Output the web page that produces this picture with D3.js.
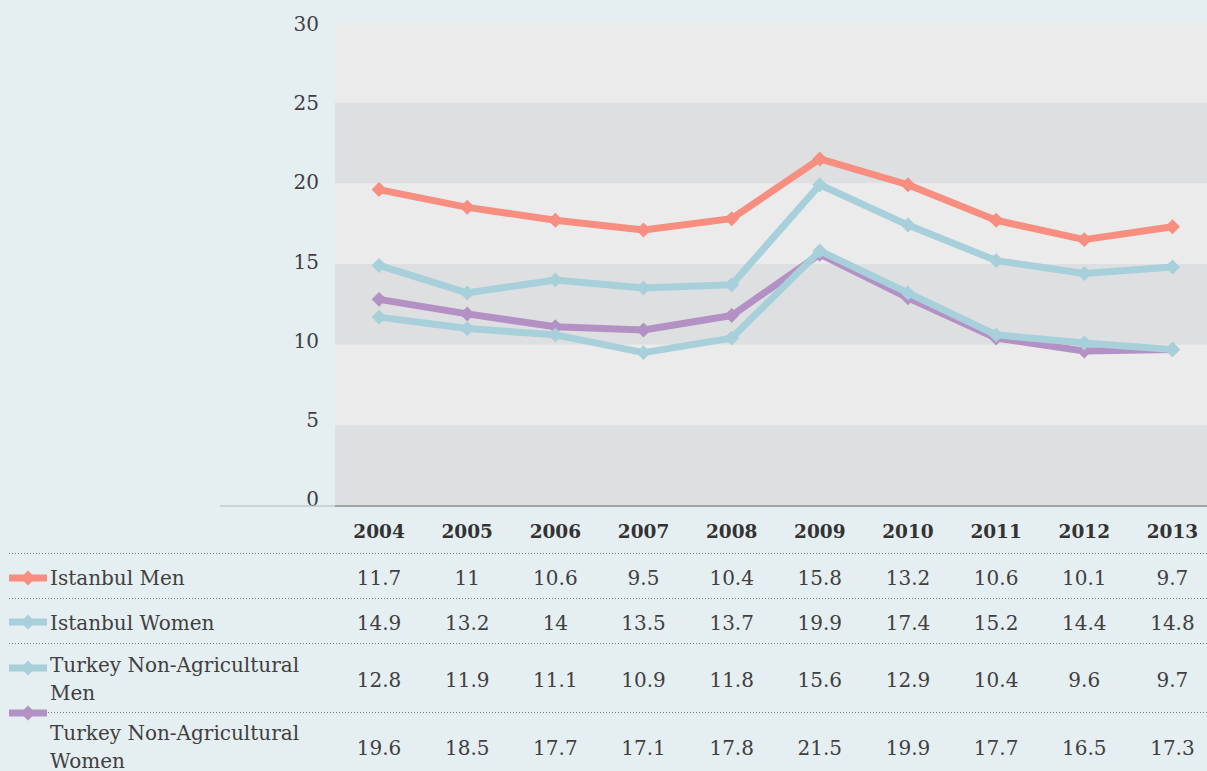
<!DOCTYPE html>
<html>
<head>
<meta charset="utf-8">
<script src="https://cdn.jsdelivr.net/npm/d3@7"></script>
<style>
  html, body { margin: 0; padding: 0; background: #e5eef0; }
  svg { display: block; }
  text { font-family: "DejaVu Serif", serif; fill: #404040; }
</style>
</head>
<body>
<svg id="chart" width="1207" height="771"></svg>
<script>
// Categories and y-axis ticks
const years = ["2004", "2005", "2006", "2007", "2008", "2009", "2010", "2011", "2012", "2013"];
const yTicks = [0, 5, 10, 15, 20, 25, 30];

// Table rows (label lines, values per year)
const rowLabels = [
  ["Istanbul Men"],
  ["Istanbul Women"],
  ["Turkey Non-Agricultural", "Men"],
  ["Turkey Non-Agricultural", "Women"]
];
const istanbulMen   = [11.7, 11, 10.6, 9.5, 10.4, 15.8, 13.2, 10.6, 10.1, 9.7];
const istanbulWomen = [14.9, 13.2, 14, 13.5, 13.7, 19.9, 17.4, 15.2, 14.4, 14.8];
const turkeyMen     = [12.8, 11.9, 11.1, 10.9, 11.8, 15.6, 12.9, 10.4, 9.6, 9.7];
const turkeyWomen   = [19.6, 18.5, 17.7, 17.1, 17.8, 21.5, 19.9, 17.7, 16.5, 17.3];
const rowValues = [istanbulMen, istanbulWomen, turkeyMen, turkeyWomen];

// Colours: the key swatch in the table and the plotted line of each row
const salmon = "#f78e7f", blue = "#a7d0da", purple = "#b491c4";
const keyColors  = [salmon, blue, blue, purple];
const lineColors = [blue, blue, purple, salmon];
const drawOrder  = [2, 0, 1, 3];

const svg = d3.select("#chart");

// Plot area
const plotLeft = 335, plotTop = 21.7, plotBottom = 506, colWidth = 88.15;
const x = d3.scaleBand().domain(years).range([plotLeft, plotLeft + colWidth * years.length]).padding(0);
const y = d3.scaleLinear().domain([0, 30]).range([plotBottom, plotTop]);
const yLabel = d3.scaleLinear().domain([0, 30]).range([506, 31]);
const cx = d => x(d) + x.bandwidth() / 2;

// Alternating horizontal bands
const bands = d3.pairs(yTicks);
svg.append("g").selectAll("rect").data(bands).join("rect")
  .attr("x", plotLeft)
  .attr("width", colWidth * years.length)
  .attr("y", d => y(d[1]))
  .attr("height", d => y(d[0]) - y(d[1]))
  .attr("fill", (d, i) => i % 2 === 0 ? "#dedfe1" : "#ebebeb");

// Y tick labels
svg.append("g").selectAll("text").data(yTicks).join("text")
  .attr("x", 319)
  .attr("y", d => yLabel(d))
  .attr("text-anchor", "end")
  .attr("font-size", 20)
  .text(d => d);

// Baseline
svg.append("line").attr("x1", 220).attr("x2", plotLeft).attr("y1", y(0)).attr("y2", y(0))
  .attr("stroke", "#b4b8ba").attr("stroke-width", 1.2);
svg.append("line").attr("x1", plotLeft).attr("x2", 1207).attr("y1", y(0)).attr("y2", y(0))
  .attr("stroke", "#8a8c8e").attr("stroke-width", 1.6);

// Series lines with diamond markers
const line = d3.line().x((d, i) => cx(years[i])).y(d => y(d));
const diamond = d3.symbol().type(d3.symbolSquare).size(112);
const seriesG = svg.append("g");
drawOrder.forEach(r => {
  const g = seriesG.append("g");
  g.append("path")
    .datum(rowValues[r])
    .attr("d", line)
    .attr("fill", "none")
    .attr("stroke", lineColors[r])
    .attr("stroke-width", 7)
    .attr("stroke-linejoin", "round");
  g.selectAll("path.m").data(rowValues[r]).join("path")
    .attr("class", "m")
    .attr("d", diamond)
    .attr("transform", (d, i) => `translate(${cx(years[i])},${y(d)}) rotate(45)`)
    .attr("fill", lineColors[r]);
});

// Year header row
svg.append("g").selectAll("text").data(years).join("text")
  .attr("x", d => cx(d))
  .attr("y", 538)
  .attr("text-anchor", "middle")
  .attr("font-size", 18.5)
  .attr("font-weight", "bold")
  .style("fill", "#333")
  .text(d => d);

// Table row separators
const sepY = [553.5, 598.5, 643.5, 712.5];
svg.append("g").selectAll("line").data(sepY).join("line")
  .attr("x1", 9).attr("x2", 1207)
  .attr("y1", d => d).attr("y2", d => d)
  .attr("stroke", "#7a7a7a")
  .attr("stroke-width", 1)
  .attr("stroke-dasharray", "1,2");

// Table rows: key, label, values
const keyY = [578, 622, 668, 713];
const labelBase = [585, 630, 672, 740];
const valueBase = [585, 630, 687, 755];
const rows = svg.append("g").selectAll("g").data(rowLabels).join("g");

rows.append("line")
  .attr("x1", 9).attr("x2", 47)
  .attr("y1", (d, i) => keyY[i]).attr("y2", (d, i) => keyY[i])
  .attr("stroke", (d, i) => keyColors[i])
  .attr("stroke-width", 7);
rows.append("path")
  .attr("d", diamond)
  .attr("transform", (d, i) => `translate(28,${keyY[i]}) rotate(45)`)
  .attr("fill", (d, i) => keyColors[i]);

rows.append("text")
  .attr("x", 50)
  .attr("y", (d, i) => labelBase[i])
  .attr("font-size", 20)
  .selectAll("tspan").data(d => d).join("tspan")
  .attr("x", 50)
  .attr("dy", (d, i) => i === 0 ? 0 : 28)
  .text(d => d);

rows.each(function(d, r) {
  d3.select(this).selectAll("text.v").data(rowValues[r]).join("text")
    .attr("class", "v")
    .attr("x", (v, i) => cx(years[i]))
    .attr("y", valueBase[r])
    .attr("text-anchor", "middle")
    .attr("font-size", 20)
    .text(v => v);
});
</script>
</body>
</html>
